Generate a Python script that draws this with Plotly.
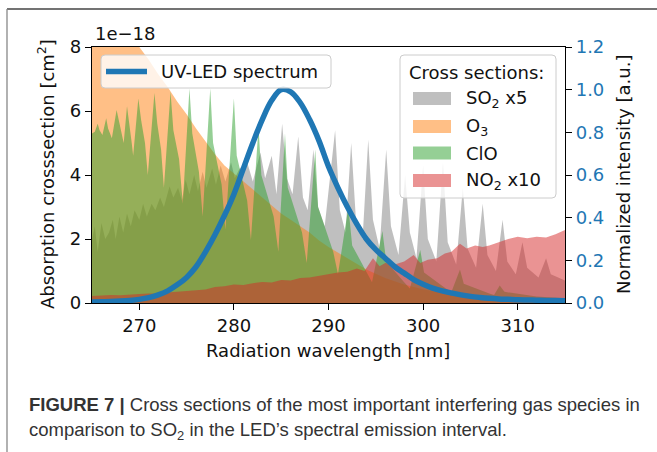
import plotly.graph_objects as go

# ---------------- data (cross sections in units of 1e-18 cm^2) ----------------
led_wl = list(range(265, 316))
led_int = [0.005, 0.006, 0.007, 0.009, 0.012, 0.017, 0.025, 0.038, 0.057, 0.085,
           0.12, 0.17, 0.24, 0.32, 0.41, 0.51, 0.63, 0.75, 0.86, 0.95,
           1.0, 0.99, 0.94, 0.86, 0.76, 0.64, 0.54, 0.45, 0.37, 0.30,
           0.25, 0.21, 0.17, 0.14, 0.11, 0.088, 0.070, 0.057, 0.047, 0.038,
           0.031, 0.026, 0.022, 0.019, 0.017, 0.015, 0.014, 0.013, 0.012, 0.012,
           0.011]

o3_wl = [265, 267, 269, 270, 271, 272, 273, 274, 275, 276, 277, 278, 279, 280,
         281, 282, 283, 284, 285, 286, 287, 288, 289, 290, 292, 294, 296, 298,
         300, 302, 304, 306, 308, 310, 312, 315]
o3_val = [9.6, 9.0, 8.4, 8.0, 7.6, 7.15, 6.75, 6.3, 5.9, 5.45, 5.05, 4.65, 4.3, 4.05,
          3.8, 3.55, 3.3, 3.05, 2.8, 2.6, 2.4, 2.2, 1.95, 1.75, 1.4, 1.05, 0.78, 0.58,
          0.43, 0.32, 0.24, 0.18, 0.13, 0.10, 0.08, 0.05]

clo_wl = [265.0, 265.3, 265.6, 265.8, 266.1, 266.5, 266.7, 267.1, 267.6, 267.9,
          268.2, 268.35, 268.7, 269.0, 269.2, 269.35, 269.9, 270.2, 270.6, 270.9,
          271.6, 271.9, 272.3, 272.6, 273.3, 273.6, 274.2, 274.6, 275.3, 275.6,
          276.3, 276.7, 277.5, 277.8, 278.7, 279.1, 280.0, 280.3, 281.4, 281.8,
          282.6, 282.9, 284.2, 284.7, 285.4, 285.7, 287.2, 287.7, 288.6, 288.9,
          290.5, 291.0, 292.1, 292.5, 294.0, 294.6, 295.7, 296.1, 298.0, 298.6,
          299.7, 300.1, 302.4, 303.0, 303.9, 304.3, 307.0, 307.5, 308.1, 308.6,
          312.0, 315.0]
clo_val = [5.30, 5.35, 5.60, 5.40, 5.25, 5.77, 5.45, 5.15, 6.03, 5.60,
           5.25, 5.00, 6.15, 5.55, 5.00, 4.60, 6.39, 5.70, 5.00, 4.00,
           6.56, 5.60, 4.80, 3.60, 6.60, 5.40, 4.50, 3.10, 6.70, 5.30,
           4.10, 2.70, 6.70, 5.00, 3.70, 2.30, 6.40, 4.60, 3.20, 1.97,
           5.50, 4.00, 2.70, 1.60, 5.30, 3.60, 2.20, 1.25, 4.80, 3.00,
           1.60, 0.90, 3.00, 1.80, 1.00, 0.65, 2.25, 1.30, 0.65, 0.45,
           1.66, 0.95, 0.45, 0.35, 1.05, 0.60, 0.30, 0.25, 0.55, 0.35,
           0.20, 0.15]

so2_wl = [265.0, 265.3, 265.6, 266.0, 266.4, 266.8, 267.2, 267.5, 267.9, 268.3,
          268.7, 269.1, 269.5, 270.0, 270.4, 270.8, 271.3, 271.7, 272.2, 272.6,
          273.2, 273.6, 274.1, 274.5, 274.9, 275.3, 275.8, 276.2, 276.7, 277.1,
          277.7, 278.1, 278.6, 279.1, 279.7, 280.1, 280.6, 281.4, 282.0, 282.8,
          283.3, 284.0, 284.5, 285.1, 285.6, 286.2, 286.8, 287.3, 287.8, 288.4,
          288.9, 289.6, 290.7, 291.2, 291.8, 292.4, 292.9, 293.6, 294.2, 294.7,
          295.4, 296.1, 296.6, 297.4, 298.1, 298.6, 299.3, 300.0, 300.5, 301.4,
          302.1, 302.6, 303.5, 304.2, 304.7, 305.6, 306.3, 306.8, 307.7, 308.4,
          308.9, 309.8, 310.5, 311.0, 312.2, 313.0, 313.5, 315.0]
so2_val = [2.0, 2.4, 1.6, 2.5, 2.0, 2.2, 2.6, 2.0, 2.7, 2.2,
           2.8, 2.4, 2.9, 2.6, 3.1, 2.7, 3.1, 2.9, 3.3, 3.0,
           3.65, 3.3, 3.6, 3.2, 3.85, 3.4, 4.0, 3.5, 4.1, 3.6,
           4.2, 3.7, 4.3, 3.8, 4.4, 3.9, 4.2, 4.4, 3.8, 4.7,
           3.9, 4.6, 3.4, 5.6, 3.9, 3.4, 5.2, 3.3, 2.9, 4.8,
           3.0, 2.4, 5.4, 2.9, 2.2, 5.0, 2.6, 2.0, 5.1, 2.6,
           1.7, 4.8, 2.4, 1.5, 4.0, 2.2, 1.4, 4.3, 2.0, 1.3,
           4.4, 1.9, 1.2, 3.6, 1.7, 1.1, 3.1, 1.5, 1.0, 2.6,
           1.3, 0.9, 1.9, 1.1, 0.8, 1.4, 0.9, 0.7]

no2_wl = [265, 266, 267, 268, 269, 270, 271, 272, 273, 274, 275, 276, 277, 278,
          279, 280, 281, 282, 283, 284, 285, 286, 287, 288, 289, 290, 291, 292,
          293, 293.8, 294.7, 295.4, 296, 297, 298, 299, 299.7, 300.5, 301.5,
          302.3, 303, 303.9, 304.6, 305.5, 306.3, 307, 308, 309, 310, 311, 312,
          313, 314, 315]
no2_val = [0.22, 0.24, 0.25, 0.24, 0.27, 0.28, 0.30, 0.29, 0.33, 0.35, 0.36, 0.40,
           0.42, 0.50, 0.52, 0.58, 0.56, 0.62, 0.66, 0.64, 0.72, 0.70, 0.78, 0.80,
           0.85, 0.92, 0.95, 0.98, 1.08, 1.00, 1.40, 1.15, 1.25, 1.20, 1.30, 1.50,
           1.25, 1.35, 1.40, 1.55, 1.60, 1.85, 1.70, 1.80, 1.75, 1.80, 1.90, 2.00,
           2.07, 2.02, 2.07, 2.05, 2.15, 2.28]

x_ticks = [270, 280, 290, 300, 310]
y_ticks = [0, 2, 4, 6, 8]
y2_ticks = [0.0, 0.2, 0.4, 0.6, 0.8, 1.0, 1.2]
legend_labels = ["SO<sub>2</sub> x5", "O<sub>3</sub>", "ClO", "NO<sub>2</sub> x10"]

# ---------------- styling ----------------
FONT = "DejaVu Sans"
FS = 18
fills = [
    (so2_wl, so2_val, "rgba(127,127,127,0.5)"),
    (o3_wl, o3_val, "rgba(255,127,14,0.5)"),
    (clo_wl, clo_val, "rgba(44,160,44,0.5)"),
    (no2_wl, no2_val, "rgba(214,39,40,0.5)"),
]
patch_colors = ["#bfbfbf", "#ffbf86", "#95cf95", "#ea9393"]

W, H = 657, 452
X0, X1, YT, YB = 92.0, 565.0, 47.0, 303.0


def px(x):
    return (x - X0) / (X1 - X0)


def py(y):
    return (YB - y) / (YB - YT)


fig = go.Figure()
for xs, ys, col in fills:
    fig.add_trace(go.Scatter(x=xs, y=ys, mode="lines", fill="tozeroy",
                             line=dict(width=0, color=col), fillcolor=col,
                             hoverinfo="skip", showlegend=False))
fig.add_trace(go.Scatter(x=led_wl, y=led_int, yaxis="y2", mode="lines",
                         line=dict(color="#1f77b4", width=5.5, shape="spline"),
                         hoverinfo="skip", showlegend=False))

axis_common = dict(showline=True, linecolor="black", linewidth=1.2, ticks="outside",
                   ticklen=6, tickwidth=1.2, tickcolor="black", showgrid=False,
                   zeroline=False, tickfont=dict(family=FONT, size=FS, color="#111"))

fig.update_layout(
    width=W, height=H, margin=dict(l=X0, r=W - X1, t=YT, b=H - YB),
    paper_bgcolor="white", plot_bgcolor="white", showlegend=False,
    xaxis=dict(range=[265, 315], tickvals=x_ticks, mirror=True, **axis_common),
    yaxis=dict(range=[0, 8], tickvals=y_ticks, mirror=True, **axis_common),
    yaxis2=dict(range=[0, 1.2], tickvals=y2_ticks,
                ticktext=[f"{v:.1f}" for v in y2_ticks], overlaying="y", side="right",
                **{**axis_common, "tickfont": dict(family=FONT, size=FS, color="#1f77b4")}),
)


def rrect(x0, y0, x1, y1, r=4):
    a0, a1 = px(x0), px(x1)
    b0, b1 = py(y0), py(y1)
    rx = r / (X1 - X0)
    ry = r / (YB - YT)
    return (f"M{a0+rx},{b0} L{a1-rx},{b0} Q{a1},{b0} {a1},{b0-ry} "
            f"L{a1},{b1+ry} Q{a1},{b1} {a1-rx},{b1} L{a0+rx},{b1} "
            f"Q{a0},{b1} {a0},{b1+ry} L{a0},{b0-ry} Q{a0},{b0} {a0+rx},{b0} Z")


shapes = []
# legend boxes
shapes.append(dict(type="path", path=rrect(101, 55, 331, 88), xref="paper", yref="paper",
                   fillcolor="rgba(255,255,255,0.8)", line=dict(color="#cccccc", width=1),
                   layer="above"))
shapes.append(dict(type="line", x0=px(106), x1=px(147), y0=py(71.5), y1=py(71.5),
                   xref="paper", yref="paper", line=dict(color="#1f77b4", width=5.5),
                   layer="above"))
shapes.append(dict(type="path", path=rrect(400, 55, 556, 198), xref="paper", yref="paper",
                   fillcolor="rgba(255,255,255,0.8)", line=dict(color="#cccccc", width=1),
                   layer="above"))
entry_y = [98.5, 126.5, 153, 180.5]
for yc, col in zip(entry_y, patch_colors):
    shapes.append(dict(type="rect", x0=px(413), x1=px(451), y0=py(yc - 6.5), y1=py(yc + 6.5),
                       xref="paper", yref="paper", fillcolor=col, line=dict(width=0),
                       layer="above"))
# page frame
shapes.append(dict(type="line", x0=px(7), x1=px(660), y0=py(9), y1=py(9), xref="paper",
                   yref="paper", line=dict(color="#444", width=1.3)))
shapes.append(dict(type="line", x0=px(7), x1=px(7), y0=py(9), y1=py(460), xref="paper",
                   yref="paper", line=dict(color="#888", width=1.3)))

ann = []
f = dict(family=FONT, size=FS, color="#111")
ann.append(dict(text="1e\u221218", x=px(93), y=py(33), xref="paper", yref="paper",
                xanchor="left", yanchor="middle", showarrow=False, font=f))
ann.append(dict(text="UV-LED spectrum", x=px(159), y=py(71.5), xref="paper", yref="paper",
                xanchor="left", yanchor="middle", showarrow=False, font=f))
ann.append(dict(text="Cross sections:", x=px(407), y=py(72), xref="paper", yref="paper",
                xanchor="left", yanchor="middle", showarrow=False, font=f))
for yc, lab in zip(entry_y, legend_labels):
    ann.append(dict(text=lab, x=px(464), y=py(yc), xref="paper", yref="paper",
                    xanchor="left", yanchor="middle", showarrow=False, font=f))
ann.append(dict(text="Absorption crosssection [cm<sup>2</sup>]", x=px(46), y=py(174),
                xref="paper", yref="paper", textangle=-90, xanchor="center",
                yanchor="middle", showarrow=False, font=f))
ann.append(dict(text="Radiation wavelength [nm]", x=px(328), y=py(350), xref="paper",
                yref="paper", xanchor="center", yanchor="middle", showarrow=False, font=f))
ann.append(dict(text="Normalized intensity [a.u.]", x=px(623), y=py(175), xref="paper",
                yref="paper", textangle=-90, xanchor="center", yanchor="middle",
                showarrow=False, font=f))
cf = dict(family="Liberation Sans", size=18.5, color="#333")
ann.append(dict(text="<b>FIGURE 7 |</b> Cross sections of the most important interfering gas species in",
                x=px(27), y=py(404), xref="paper", yref="paper", xanchor="left",
                yanchor="middle", showarrow=False, font=cf))
ann.append(dict(text="comparison to SO<sub>2</sub> in the LED\u2019s spectral emission interval.",
                x=px(27), y=py(431), xref="paper", yref="paper", xanchor="left",
                yanchor="middle", showarrow=False, font=cf))

fig.update_layout(shapes=shapes, annotations=ann)
fig.write_html("out.html")
